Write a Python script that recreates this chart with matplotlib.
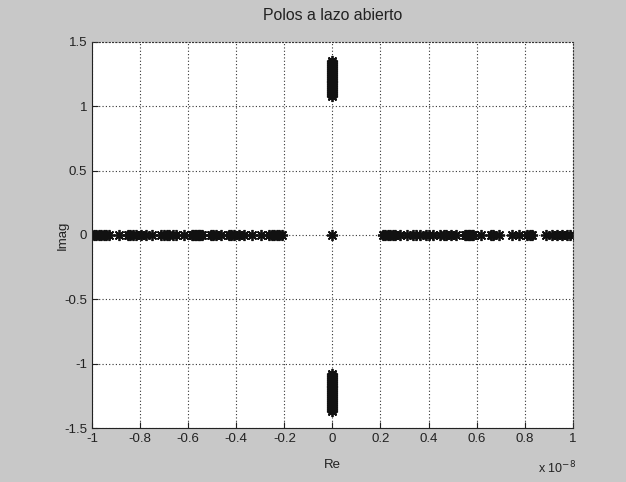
import matplotlib
matplotlib.use("Agg")
import matplotlib.pyplot as plt

# open-loop poles, real part in units of 1e-8
re_left = [-0.992, -0.982, -0.972, -0.962, -0.951, -0.940, -0.930, -0.888, -0.850, -0.840,
           -0.829, -0.819, -0.798, -0.777, -0.749, -0.711, -0.701, -0.690, -0.680, -0.662,
           -0.652, -0.617, -0.585, -0.578, -0.572, -0.566, -0.560, -0.555, -0.549, -0.543,
           -0.506, -0.495, -0.485, -0.465, -0.430, -0.420, -0.409, -0.388, -0.367, -0.333,
           -0.298, -0.263, -0.253, -0.243, -0.232, -0.222, -0.208]
re_right = [0.212, 0.219, 0.230, 0.240, 0.250, 0.260, 0.281, 0.309, 0.336, 0.346, 0.364,
            0.391, 0.402, 0.419, 0.446, 0.464, 0.474, 0.494, 0.515, 0.550, 0.556, 0.562,
            0.568, 0.574, 0.580, 0.586, 0.618, 0.660, 0.670, 0.694, 0.749, 0.777, 0.811,
            0.822, 0.832, 0.887, 0.915, 0.935, 0.956, 0.977, 0.990]
im_upper = [1.08, 1.095, 1.11, 1.125, 1.14, 1.155, 1.17, 1.185, 1.20, 1.215, 1.23,
            1.245, 1.26, 1.275, 1.29, 1.305, 1.32, 1.335, 1.35]
im_lower = [-1.08, -1.095, -1.11, -1.125, -1.14, -1.155, -1.17, -1.185, -1.20, -1.215,
            -1.23, -1.245, -1.26, -1.275, -1.29, -1.305, -1.32, -1.335, -1.35, -1.365]

xticks = [-1, -0.8, -0.6, -0.4, -0.2, 0, 0.2, 0.4, 0.6, 0.8, 1]
xlabels = ["-1", "-0.8", "-0.6", "-0.4", "-0.2", "0", "0.2", "0.4", "0.6", "0.8", "1"]
yticks = [-1.5, -1, -0.5, 0, 0.5, 1, 1.5]
ylabels = ["-1.5", "-1", "-0.5", "0", "0.5", "1", "1.5"]

plt.rcParams['font.family'] = ['Liberation Sans', 'DejaVu Sans']
plt.rcParams['font.size'] = 9.5

fig = plt.figure(figsize=(6.26, 4.82), dpi=100, facecolor='#c8c8c8')
ax = fig.add_axes([0.147, 0.112, 0.768, 0.801])
ax.set_facecolor('white')

mk = dict(marker=(8, 2, 0), color='#111111', markersize=8, markeredgewidth=1.3, linestyle='none')
ax.plot(re_left, [0] * len(re_left), **mk)
ax.plot(re_right, [0] * len(re_right), **mk)
ax.plot([0], [0], **mk)
ax.plot([0] * len(im_upper), im_upper, **mk)
ax.plot([0] * len(im_lower), im_lower, **mk)

ax.set_xlim(-1, 1)
ax.set_ylim(-1.5, 1.5)
ax.set_xticks(xticks)
ax.set_xticklabels(xlabels)
ax.set_yticks(yticks)
ax.set_yticklabels(ylabels)
ax.tick_params(direction='in', length=4, colors='#222222', top=False, right=False)
ax.grid(True, linestyle=(0, (1, 2)), color='#333333', linewidth=0.8)
ax.set_axisbelow(True)

for s in ['top', 'right']:
    ax.spines[s].set_linestyle((0, (1, 2)))
    ax.spines[s].set_linewidth(0.8)
    ax.spines[s].set_color('#333333')
for s in ['left', 'bottom']:
    ax.spines[s].set_color('#222222')

ax.set_title("Polos a lazo abierto", color='#222222', pad=16)
ax.set_xlabel("Re", color='#222222', labelpad=10)
ax.set_ylabel("Imag", color='#222222', labelpad=-3)
fig.text(0.860, 0.018, r"x 10$^{-8}$", color='#222222', fontsize=9)

fig.savefig("out.png", dpi=100, facecolor=fig.get_facecolor())
